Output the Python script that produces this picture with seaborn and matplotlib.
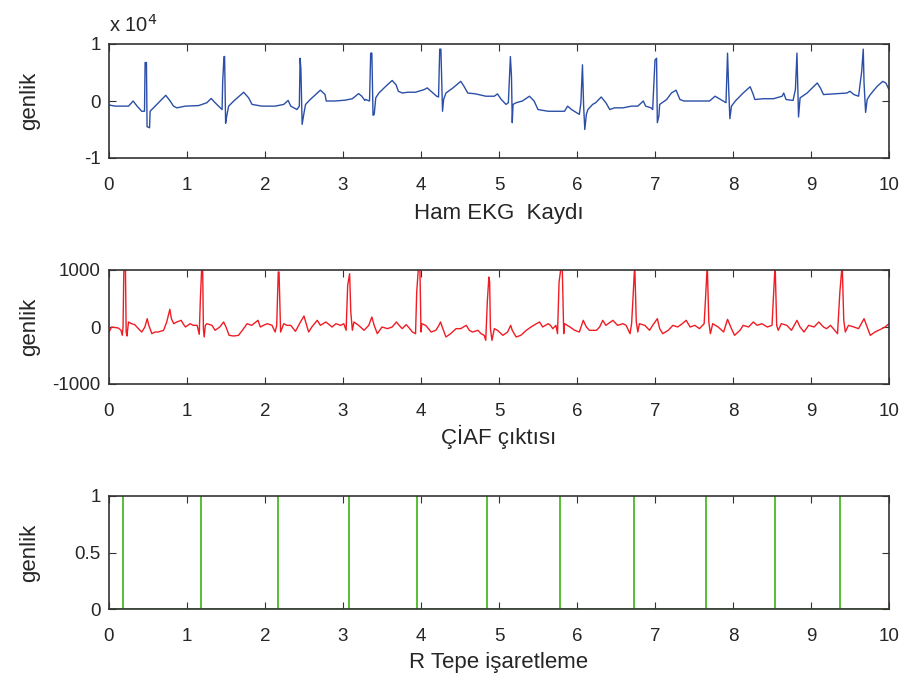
import numpy as np
import pandas as pd
import matplotlib
matplotlib.use("Agg")
import matplotlib.pyplot as plt
import seaborn as sns

# ---------------- data ----------------
# Raw ECG (units of 1e4)
ecg_t = [0.00, 0.08, 0.25, 0.31, 0.36, 0.42, 0.455, 0.463, 0.480, 0.488, 0.52, 0.527, 0.57, 0.634, 0.728,
         0.784, 0.827, 0.87, 0.977, 1.15, 1.255, 1.31, 1.36, 1.45, 1.457, 1.474, 1.482, 1.495, 1.51, 1.534,
         1.60, 1.727, 1.79, 1.834, 1.96, 2.13, 2.24, 2.297, 2.33, 2.41, 2.44, 2.45, 2.46, 2.476, 2.50, 2.52,
         2.58, 2.65, 2.71, 2.77, 2.785, 2.90, 3.03, 3.12, 3.20, 3.24, 3.28, 3.29, 3.34, 3.355, 3.37, 3.385,
         3.40, 3.42, 3.46, 3.55, 3.63, 3.68, 3.71, 3.76, 3.83, 3.93, 4.04, 4.08, 4.13, 4.20, 4.225, 4.24,
         4.255, 4.276, 4.29, 4.32, 4.41, 4.51, 4.55, 4.60, 4.70, 4.83, 4.94, 4.98, 5.03, 5.09, 5.12, 5.146,
         5.16, 5.17, 5.18, 5.22, 5.30, 5.39, 5.45, 5.50, 5.63, 5.84, 5.88, 5.93, 6.03, 6.05, 6.07, 6.085,
         6.10, 6.12, 6.14, 6.20, 6.24, 6.31, 6.37, 6.42, 6.48, 6.59, 6.70, 6.78, 6.85, 6.88, 6.95, 6.97,
         7.00, 7.02, 7.03, 7.05, 7.06, 7.15, 7.21, 7.27, 7.32, 7.37, 7.49, 7.70, 7.77, 7.84, 7.91, 7.93,
         7.945, 7.96, 7.98, 8.03, 8.13, 8.22, 8.26, 8.28, 8.39, 8.52, 8.63, 8.65, 8.68, 8.77, 8.80, 8.82,
         8.83, 8.84, 8.86, 8.95, 9.08, 9.12, 9.16, 9.29, 9.46, 9.50, 9.55, 9.61, 9.65, 9.67, 9.68, 9.70,
         9.72, 9.76, 9.85, 9.92, 9.96, 10.0]
ecg_v = [-0.07, -0.09, -0.09, 0.00, -0.09, -0.18, -0.18, 0.675, 0.675, -0.45, -0.47, -0.18, -0.12, -0.03, 0.10,
         0.00, -0.09, -0.12, -0.09, -0.08, -0.03, 0.045, -0.03, -0.15, 0.32, 0.78, 0.78, -0.39, -0.26, -0.09,
         0.00, 0.154, 0.055, -0.06, -0.09, -0.09, -0.06, 0.01, -0.09, -0.15, -0.09, 0.75, 0.57, -0.41, -0.21, -0.06,
         0.026, 0.113, 0.19, 0.113, 0.00, 0.00, 0.015, 0.04, 0.13, 0.085, 0.01, 0.026, 0.00, 0.84, 0.84, -0.25,
         -0.235, 0.055, 0.14, 0.26, 0.36, 0.285, 0.17, 0.14, 0.154, 0.154, 0.20, 0.23, 0.17, 0.084, 0.07, 0.91,
         0.91, -0.18, 0.026, 0.14, 0.23, 0.345, 0.26, 0.14, 0.125, 0.084, 0.084, 0.125, 0.026, -0.06, -0.03, 0.78,
         0.43, -0.38, -0.06, -0.03, 0.00, 0.084, 0.00, -0.15, -0.18, -0.18, -0.09, -0.15, -0.235, -0.03, 0.635, -0.09,
         -0.50, -0.235, -0.15, -0.06, -0.03, 0.07, -0.03, -0.15, -0.12, -0.12, -0.09, -0.09, 0.00, -0.09, -0.12, -0.15,
         0.72, 0.75, -0.38, -0.26, -0.06, 0.026, 0.14, 0.19, 0.026, 0.00, 0.00, 0.00, 0.084, 0.026, -0.03, 0.84,
         0.20, -0.31, -0.09, 0.00, 0.14, 0.25, 0.113, 0.026, 0.04, 0.04, 0.084, 0.14, 0.026, 0.01, 0.20, 0.84,
         0.315, -0.28, 0.055, 0.14, 0.316, 0.23, 0.113, 0.125, 0.14, 0.17, 0.113, 0.084, 0.52, 0.91, 0.315, -0.20,
         0.026, 0.113, 0.26, 0.345, 0.315, 0.20]

# Filter output
flt_t = [0.00, 0.034, 0.12, 0.154, 0.17, 0.18, 0.19, 0.20, 0.21, 0.22, 0.23, 0.25, 0.29, 0.33, 0.377, 0.42,
         0.46, 0.49, 0.51, 0.55, 0.59, 0.63, 0.70, 0.74, 0.78, 0.80, 0.83, 0.87, 0.925, 0.95, 0.98, 1.04,
         1.08, 1.13, 1.157, 1.17, 1.19, 1.20, 1.21, 1.22, 1.235, 1.255, 1.32, 1.36, 1.42, 1.47, 1.50, 1.54,
         1.60, 1.66, 1.71, 1.77, 1.83, 1.91, 1.94, 1.98, 2.03, 2.09, 2.13, 2.15, 2.17, 2.18, 2.20, 2.24,
         2.28, 2.33, 2.39, 2.455, 2.50, 2.54, 2.56, 2.60, 2.67, 2.71, 2.78, 2.86, 2.91, 2.97, 3.01, 3.04,
         3.06, 3.085, 3.10, 3.12, 3.14, 3.20, 3.27, 3.33, 3.37, 3.40, 3.44, 3.50, 3.57, 3.63, 3.685, 3.72,
         3.76, 3.81, 3.85, 3.89, 3.93, 3.945, 3.97, 3.985, 4.00, 4.01, 4.06, 4.13, 4.19, 4.23, 4.25, 4.28,
         4.32, 4.38, 4.45, 4.51, 4.58, 4.62, 4.66, 4.73, 4.77, 4.81, 4.83, 4.85, 4.87, 4.88, 4.89, 4.91,
         4.94, 4.98, 5.05, 5.11, 5.15, 5.17, 5.22, 5.28, 5.35, 5.41, 5.48, 5.52, 5.56, 5.63, 5.66, 5.69,
         5.73, 5.75, 5.77, 5.80, 5.81, 5.83, 5.84, 5.91, 5.97, 6.03, 6.08, 6.12, 6.16, 6.25, 6.29, 6.33,
         6.37, 6.46, 6.52, 6.59, 6.63, 6.68, 6.70, 6.72, 6.74, 6.76, 6.78, 6.80, 6.87, 6.93, 6.97, 7.03,
         7.06, 7.10, 7.17, 7.23, 7.29, 7.35, 7.40, 7.45, 7.51, 7.57, 7.63, 7.65, 7.67, 7.69, 7.71, 7.74,
         7.81, 7.88, 7.93, 7.98, 8.02, 8.09, 8.13, 8.20, 8.26, 8.31, 8.37, 8.44, 8.50, 8.52, 8.54, 8.56,
         8.58, 8.62, 8.69, 8.75, 8.82, 8.86, 8.91, 8.97, 9.04, 9.10, 9.16, 9.20, 9.25, 9.34, 9.37, 9.40,
         9.42, 9.44, 9.48, 9.55, 9.61, 9.68, 9.72, 9.76, 9.82, 9.91, 9.95, 10.00]
flt_v = [-88, 0, -18, -58, -146, 0, 965, 1100, 1100, -88, -158, 88, 58, 41, -29, -88,
         0, 146, 29, -117, -88, -88, -58, 88, 310, 146, 58, 88, 117, 58, 0, 58,
         29, 29, -129, 439, 1100, 1100, -29, -175, 29, 58, 29, -58, 0, 88, 0, -146,
         -158, -146, -58, 58, 29, 117, 0, 29, 58, 29, -88, 29, 965, 965, -88, 58,
         29, 29, -76, 88, 193, 0, -88, 0, 117, 29, 88, 0, 58, 29, 58, -58,
         731, 935, 263, -58, 88, 29, -58, 29, 175, 29, -117, 0, -29, 0, 88, 29,
         -29, 41, -18, -88, -117, 614, 1100, 1100, -88, 58, 29, -88, -58, 29, 88, -29,
         -175, -117, -29, -29, 29, -58, -88, -58, -117, -146, -234, 439, 877, 789, -29, -234,
         -29, -58, -146, -88, 29, -58, -175, -146, -58, 0, 58, 88, 0, 58, 29, -29,
         29, -117, 789, 1100, 1100, -117, 58, 0, -58, -88, 117, 0, -58, -58, 0, 117,
         29, 117, 29, 58, 29, -117, 58, 556, 1100, 88, -88, 58, 29, -58, 29, 146,
         -29, -117, -58, 29, 0, 58, 117, 0, 29, -29, 58, 556, 1100, 88, -117, 58,
         0, -88, 135, -29, -146, -58, 29, 0, 88, 29, 58, 0, 29, 556, 1100, 29,
         -58, 58, 29, -58, 117, 0, -88, 29, 0, 88, 0, -29, 29, -117, 614, 1100,
         117, -88, 29, 0, -29, 146, 0, -146, -88, -29, 0, 58]

# Detected R peak times (s)
r_peaks = [0.18, 1.18, 2.17, 3.08, 3.95, 4.85, 5.78, 6.73, 7.66, 8.54, 9.37]

x_ticks = list(range(0, 11))
titles = ["Ham EKG  Kaydı", "ÇİAF çıktısı", "R Tepe işaretleme"]
ylab = "genlik"

# ---------------- style ----------------
sns.set_style("white")
plt.rcParams["font.family"] = ["Liberation Sans", "DejaVu Sans"]

W, H = 906, 676
fig = plt.figure(figsize=(W / 100, H / 100), dpi=100)

def px_axes(top, bottom, left=109, right=889):
    return [left / W, 1 - bottom / H, (right - left) / W, (bottom - top) / H]

ax1 = fig.add_axes(px_axes(44, 158))
ax2 = fig.add_axes(px_axes(270, 384))
ax3 = fig.add_axes(px_axes(496, 609))

df1 = pd.DataFrame({"t": ecg_t, "v": ecg_v})
df2 = pd.DataFrame({"t": flt_t, "v": flt_v})

# pulse train built from peak times
pt, pv = [0.0], [0.0]
for p in r_peaks:
    pt += [p, p, p]
    pv += [0.0, 1.0, 0.0]
pt.append(10.0)
pv.append(0.0)
df3 = pd.DataFrame({"t": pt, "v": pv})

sns.lineplot(data=df1, x="t", y="v", ax=ax1, color="#2b4fa6", lw=1.0, estimator=None, sort=False)
sns.lineplot(data=df2, x="t", y="v", ax=ax2, color="#f01c24", lw=1.0, estimator=None, sort=False)
sns.lineplot(data=df3, x="t", y="v", ax=ax3, color="#5cbf3a", lw=1.4, estimator=None, sort=False)

tfs = 13.5
lfs = 16
label_pads = [7, 4, 5.5]
for ax, title, lp in zip([ax1, ax2, ax3], titles, label_pads):
    ax.set_xlim(0, 10)
    ax.set_xticks(x_ticks)
    ax.set_xticklabels([str(x) for x in x_ticks])
    ax.set_xlabel(title, fontsize=lfs, labelpad=lp)
    ax.set_ylabel(ylab, fontsize=lfs)
    ax.tick_params(direction="in", length=5, width=0.8, color="#333333", labelsize=tfs,
                   top=True, right=True, bottom=True, left=True)
    ax.tick_params(axis="x", pad=13.5)
    ax.tick_params(axis="y", pad=6)
    for s in ax.spines.values():
        s.set_color("#333333")
        s.set_linewidth(1.2)
        s.set_visible(True)

ax1.set_ylim(-1, 1)
ax1.set_yticks([-1, 0, 1])
ax1.set_yticklabels(["-1", "0", "1"])
ax1.text(0.0, 1.07, "x 10$^{4}$", transform=ax1.transAxes, fontsize=14.5, ha="left", va="bottom")

ax2.set_ylim(-1000, 1000)
ax2.set_yticks([-1000, 0, 1000])
ax2.set_yticklabels(["-1000", "0", "1000"])

ax3.set_ylim(0, 1)
ax3.set_yticks([0, 0.5, 1])
ax3.set_yticklabels(["0", "0.5", "1"])

for ax in [ax1, ax2, ax3]:
    ax.yaxis.set_label_coords(-0.088, 0.5)

fig.savefig("out.png", dpi=100)
